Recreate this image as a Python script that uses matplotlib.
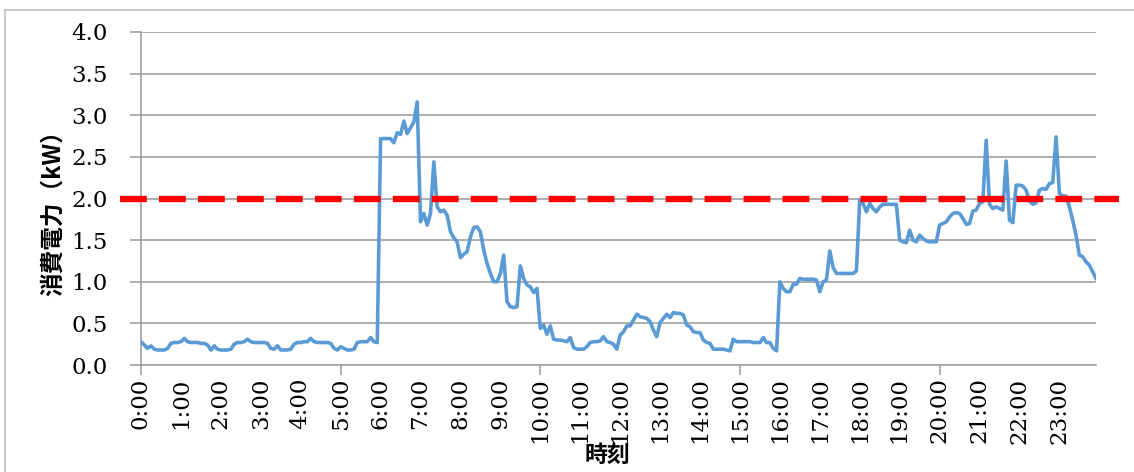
import matplotlib
matplotlib.use("Agg")
import matplotlib.pyplot as plt
from matplotlib.lines import Line2D
import numpy as np

# 5-minute readings, one list per hour (kW)
h00 = [0.28, 0.24, 0.20, 0.23, 0.19, 0.18, 0.18, 0.18, 0.20, 0.26, 0.27, 0.27]
h01 = [0.28, 0.32, 0.28, 0.27, 0.27, 0.27, 0.26, 0.26, 0.24, 0.18, 0.23, 0.19]
h02 = [0.18, 0.18, 0.18, 0.19, 0.25, 0.27, 0.27, 0.28, 0.31, 0.28, 0.27, 0.27]
h03 = [0.27, 0.27, 0.26, 0.20, 0.19, 0.23, 0.18, 0.18, 0.18, 0.19, 0.25, 0.27]
h04 = [0.27, 0.28, 0.28, 0.32, 0.28, 0.27, 0.27, 0.27, 0.27, 0.26, 0.20, 0.18]
h05 = [0.22, 0.20, 0.18, 0.18, 0.19, 0.27, 0.28, 0.28, 0.28, 0.33, 0.28, 0.27]
h06 = [2.72, 2.72, 2.72, 2.72, 2.67, 2.79, 2.77, 2.93, 2.78, 2.85, 2.92, 3.16]
h07 = [1.72, 1.82, 1.68, 1.82, 2.44, 1.90, 1.84, 1.86, 1.80, 1.60, 1.53, 1.48]
h08 = [1.29, 1.33, 1.36, 1.54, 1.65, 1.66, 1.60, 1.38, 1.22, 1.10, 1.00, 1.00]
h09 = [1.10, 1.32, 0.76, 0.70, 0.69, 0.70, 1.19, 1.04, 0.96, 0.94, 0.87, 0.92]
h10 = [0.44, 0.48, 0.37, 0.47, 0.31, 0.30, 0.30, 0.29, 0.28, 0.33, 0.21, 0.19]
h11 = [0.19, 0.19, 0.22, 0.27, 0.28, 0.28, 0.29, 0.34, 0.28, 0.27, 0.25, 0.19]
h12 = [0.36, 0.40, 0.47, 0.47, 0.54, 0.61, 0.58, 0.57, 0.56, 0.52, 0.42, 0.34]
h13 = [0.51, 0.56, 0.61, 0.57, 0.63, 0.62, 0.62, 0.60, 0.48, 0.46, 0.40, 0.39]
h14 = [0.39, 0.30, 0.27, 0.26, 0.19, 0.19, 0.19, 0.19, 0.18, 0.17, 0.31, 0.28]
h15 = [0.28, 0.28, 0.28, 0.28, 0.27, 0.27, 0.27, 0.33, 0.27, 0.27, 0.20, 0.17]
h16 = [1.00, 0.92, 0.88, 0.88, 0.97, 0.97, 1.04, 1.03, 1.03, 1.03, 1.03, 1.02]
h17 = [0.88, 1.00, 1.02, 1.37, 1.17, 1.10, 1.10, 1.10, 1.10, 1.10, 1.10, 1.13]
h18 = [1.98, 1.94, 1.84, 1.94, 1.88, 1.84, 1.90, 1.93, 1.93, 1.93, 1.93, 1.93]
h19 = [1.50, 1.48, 1.47, 1.62, 1.50, 1.48, 1.56, 1.52, 1.49, 1.48, 1.48, 1.48]
h20 = [1.68, 1.70, 1.72, 1.78, 1.82, 1.83, 1.82, 1.76, 1.69, 1.70, 1.85, 1.86]
h21 = [1.94, 1.96, 2.70, 1.93, 1.88, 1.90, 1.88, 1.86, 2.45, 1.74, 1.71, 2.16]
h22 = [2.16, 2.15, 2.10, 1.97, 1.93, 1.95, 2.10, 2.12, 2.11, 2.18, 2.19, 2.74]
h23 = [2.06, 2.03, 2.03, 1.90, 1.74, 1.56, 1.32, 1.30, 1.24, 1.20, 1.12, 1.04]

power = (h00 + h01 + h02 + h03 + h04 + h05 + h06 + h07 + h08 + h09 + h10 + h11 +
         h12 + h13 + h14 + h15 + h16 + h17 + h18 + h19 + h20 + h21 + h22 + h23)
hour_labels = [f"{h}:00" for h in range(24)]
limit = 2.0

idx = np.arange(len(power))

W, H = 1134, 472
fig = plt.figure(figsize=(W / 100, H / 100), dpi=100)

# chart frame (only left and top edges fall inside the picture)
fig.add_artist(Line2D([5 / W, 5 / W], [0, 1 - 10 / H], color="#bfbfbf", lw=1.2))
fig.add_artist(Line2D([5 / W, 1], [1 - 10 / H, 1 - 10 / H], color="#bfbfbf", lw=1.2))

ax = fig.add_axes([141 / W, 107 / H, 955 / W, 333 / H])

ax.plot(idx, power, color="#5b9bd5", lw=2.6, solid_joinstyle="round", zorder=3)
ax.plot([-6.3, 294], [limit, limit], color="#ff0000", lw=4.6,
        dashes=(4.2, 1.9), clip_on=False, zorder=4)

ax.set_xlim(0, len(power) - 1)
ax.set_ylim(0, 4.0)
ax.set_yticks(np.arange(0, 4.01, 0.5))
ax.set_yticklabels([f"{v:.1f}" for v in np.arange(0, 4.01, 0.5)])
ax.grid(axis="y", color="#a0a0a0", lw=1.2)
ax.set_axisbelow(True)

ax.set_xticks(idx[::12])
ax.set_xticklabels(hour_labels, rotation=90)
ax.xaxis.remove_overlapping_locs = False
ax.set_xticks(idx[::60], minor=True)
ax.tick_params(axis="x", which="major", length=0, pad=9)
ax.tick_params(axis="x", which="minor", length=7, width=1.2, color="#a0a0a0")
ax.tick_params(axis="y", length=8, width=1.2, color="#a0a0a0", pad=16)

for lab in ax.get_xticklabels() + ax.get_yticklabels():
    lab.set_family("DejaVu Serif")
    lab.set_fontsize(16.5)

for side in ["top", "right"]:
    ax.spines[side].set_visible(False)
for side in ["left", "bottom"]:
    ax.spines[side].set_color("#a0a0a0")
    ax.spines[side].set_linewidth(1.2)

fig.text(53 / W, 1 - 207 / H, "消費電力（kW）", rotation=90, ha="center", va="center",
         fontsize=17, fontweight="bold", family=["Noto Sans CJK JP", "DejaVu Sans"])
fig.text(607 / W, 1 - 455 / H, "時刻", ha="center", va="center",
         fontsize=16.5, fontweight="bold", family=["Noto Sans CJK JP", "DejaVu Sans"])

fig.savefig("out.png", dpi=100, facecolor="white")
